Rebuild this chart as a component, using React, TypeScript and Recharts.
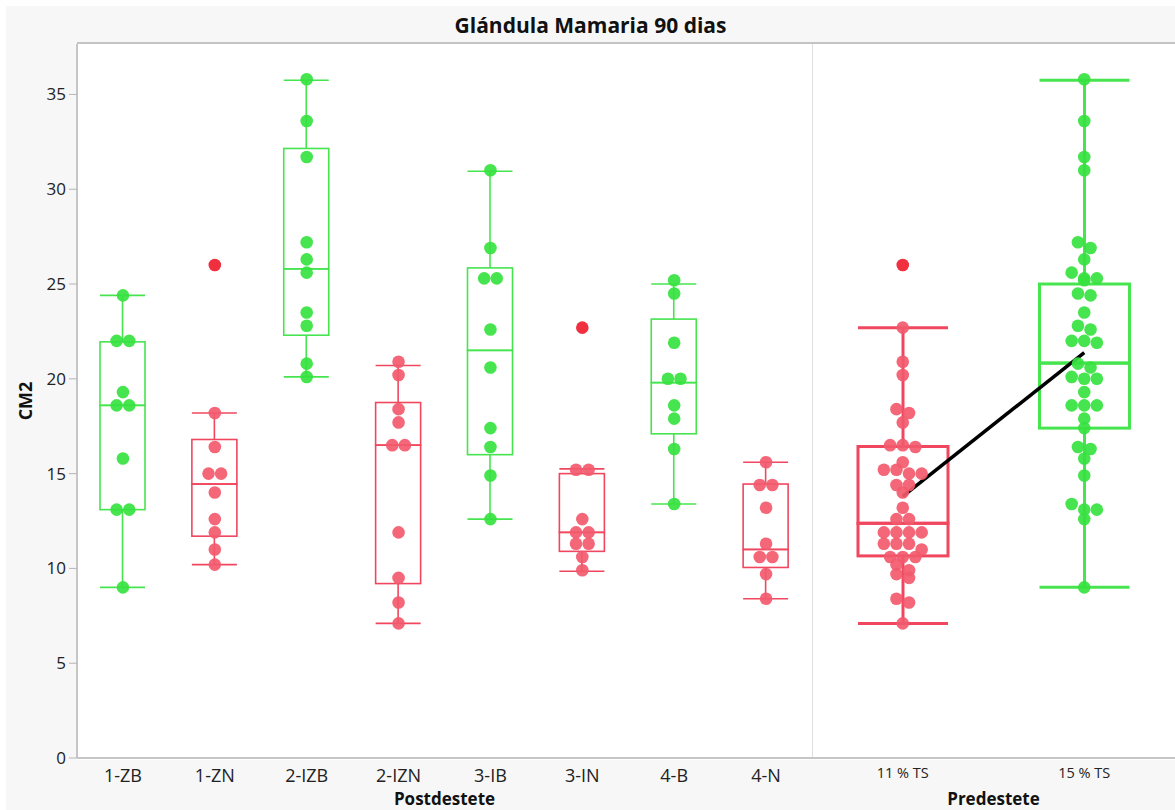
import React from "react";
import { ComposedChart, Bar, Scatter, Line, XAxis, YAxis } from "recharts";

// Postdestete groups (CM2 values)
const postCats = ["1-ZB", "1-ZN", "2-IZB", "2-IZN", "3-IB", "3-IN", "4-B", "4-N"];
const zb1 = [24.4, 22.0, 22.0, 19.3, 18.6, 18.6, 15.8, 13.1, 13.1, 9.0];
const zn1 = [26.0, 18.2, 16.4, 15.0, 15.0, 14.0, 12.6, 11.9, 11.0, 10.2];
const izb2 = [35.8, 33.6, 31.7, 27.2, 26.3, 25.6, 23.5, 22.8, 20.8, 20.1];
const izn2 = [20.9, 20.2, 18.4, 17.7, 16.5, 16.5, 11.9, 9.5, 8.2, 7.1];
const ib3 = [31.0, 26.9, 25.3, 25.3, 22.6, 20.6, 17.4, 16.4, 14.9, 12.6];
const in3 = [22.7, 15.2, 15.2, 12.6, 11.9, 11.9, 11.3, 11.3, 10.6, 9.9];
const b4 = [25.2, 24.5, 21.9, 20.0, 20.0, 18.6, 17.9, 16.3, 13.4];
const n4 = [15.6, 14.4, 14.4, 13.2, 11.3, 10.6, 10.6, 9.7, 8.4];

// box stats as drawn
const postLo = [9.0, 10.2, 20.1, 7.1, 12.6, 9.85, 13.4, 8.4];
const postQ1 = [13.1, 11.7, 22.3, 9.2, 16.0, 10.9, 17.1, 10.05];
const postMed = [18.6, 14.45, 25.8, 16.5, 21.5, 11.9, 19.8, 11.0];
const postQ3 = [21.95, 16.8, 32.15, 18.75, 25.85, 15.0, 23.15, 14.45];
const postHi = [24.4, 18.2, 35.75, 20.7, 30.95, 15.25, 25.0, 15.6];

// Predestete = pooled groups
const preCats = ["11 % TS", "15 % TS"];
const ts11 = [...zn1, ...izn2, ...in3, ...n4];
const ts15 = [...zb1, ...izb2, ...ib3, ...b4];
const preLo = [7.1, 9.0];
const preQ1 = [10.66, 17.4];
const preMed = [12.38, 20.83];
const preQ3 = [16.43, 25.0];
const preHi = [22.7, 35.75];

const yTicks = [0, 5, 10, 15, 20, 25, 30, 35];
const Y_MAX = 37.66;

const GREEN = "#36e23f";
const GREEN_LINE = "#46e44e";
const RED = "#f25a6e";
const RED_LINE = "#f0475f";
const RED_OUT = "#f0303f";
const redGroups = ["1-ZN", "2-IZN", "3-IN", "4-N", "11 % TS"];
const isRed = (name: string) => redGroups.includes(name);

function boxRows(cats: string[], lo: number[], q1: number[], med: number[], q3: number[], hi: number[], groups: number[][]) {
  return cats.map((name, i) => ({
    name,
    base: lo[i],
    lowW: q1[i] - lo[i],
    lowBox: med[i] - q1[i],
    highBox: q3[i] - med[i],
    highW: hi[i] - q3[i],
    mean: groups[i].reduce((a, b) => a + b, 0) / groups[i].length,
  }));
}

// simple packed layout: near-equal values share a row, centred on the category
function swarm(groups: number[][], cats: string[], lo: number[], hi: number[], gap: number) {
  const pts: any[] = [];
  groups.forEach((vals, i) => {
    const sorted = [...vals].sort((a, b) => b - a);
    const rows: number[][] = [];
    sorted.forEach((v) => {
      const last = rows[rows.length - 1];
      if (last && last[0] - v < 0.35) last.push(v);
      else rows.push([v]);
    });
    rows.forEach((row) => {
      row.forEach((v, j) => {
        pts.push({
          x: i + 0.5,
          y: v,
          dx: (j - (row.length - 1) / 2) * gap,
          red: isRed(cats[i]),
          out: v > hi[i] + 0.3 || v < lo[i] - 0.3,
        });
      });
    });
  });
  return pts;
}

const postGroups = [zb1, zn1, izb2, izn2, ib3, in3, b4, n4];
const preGroups = [ts11, ts15];
const postData = boxRows(postCats, postLo, postQ1, postMed, postQ3, postHi, postGroups);
const preData = boxRows(preCats, preLo, preQ1, preMed, preQ3, preHi, preGroups);
const postPts = swarm(postGroups, postCats, postLo, postHi, 12.6);
const prePts = swarm(preGroups, preCats, preLo, preHi, 12.6);

const lineColor = (p: any) => (isRed(p.payload?.name ?? p.name) ? RED_LINE : GREEN_LINE);

const whisker = (lowEnd: boolean, sw: number) => (p: any) => {
  const { x, y, width, height } = p;
  const cx = x + width / 2;
  const capY = lowEnd ? y + height : y;
  const c = lineColor(p);
  return (
    <g>
      <line x1={cx} x2={cx} y1={y} y2={y + height} stroke={c} strokeWidth={sw} />
      <line x1={x} x2={x + width} y1={capY} y2={capY} stroke={c} strokeWidth={sw} />
    </g>
  );
};

const boxPart = (sw: number) => (p: any) => (
  <rect x={p.x} y={p.y} width={p.width} height={p.height} fill="none" stroke={lineColor(p)} strokeWidth={sw} />
);

const dot = (p: any) => {
  const d = p.payload;
  const fill = d.red ? (d.out ? RED_OUT : RED) : GREEN;
  return <circle cx={p.cx + d.dx} cy={p.cy} r={6.3} fill={fill} fillOpacity={d.out ? 1 : 0.92} />;
};

const none = () => <g />;

function BoxPanel({ data, pts, cats, width, left, barSize, sw, withY, showMean, tickSize }: any) {
  return (
    <div style={{ position: "absolute", left, top: 0 }}>
      <ComposedChart width={width} height={810} data={data} margin={{ top: 44, right: 0, left: 0, bottom: 22 }}>
        <XAxis
          xAxisId="cat"
          dataKey="name"
          type="category"
          interval={0}
          height={30}
          tickLine={false}
          tickSize={0}
          tickMargin={tickSize > 15 ? 11 : 10}
          axisLine={{ stroke: "#c6c6c6", strokeWidth: 2 }}
          tick={{ fontSize: tickSize, fill: "#222", fontFamily: "Open Sans" }}
        />
        <XAxis xAxisId="num" dataKey="x" type="number" domain={[0, cats.length]} allowDataOverflow hide />
        {withY ? (
          <YAxis
            domain={[0, Y_MAX]}
            ticks={yTicks}
            width={77}
            tickSize={8}
            tickMargin={3}
            tickLine={{ stroke: "#b5b5b5" }}
            axisLine={{ stroke: "#c6c6c6", strokeWidth: 2 }}
            tick={{ fontSize: 17, fill: "#222", fontFamily: "Open Sans" }}
          />
        ) : (
          <YAxis domain={[0, Y_MAX]} hide />
        )}
        <Bar xAxisId="cat" dataKey="base" stackId="b" barSize={barSize} shape={none} isAnimationActive={false} />
        <Bar xAxisId="cat" dataKey="lowW" stackId="b" barSize={barSize} shape={whisker(true, sw)} isAnimationActive={false} />
        <Bar xAxisId="cat" dataKey="lowBox" stackId="b" barSize={barSize} shape={boxPart(sw)} isAnimationActive={false} />
        <Bar xAxisId="cat" dataKey="highBox" stackId="b" barSize={barSize} shape={boxPart(sw)} isAnimationActive={false} />
        <Bar xAxisId="cat" dataKey="highW" stackId="b" barSize={barSize} shape={whisker(false, sw)} isAnimationActive={false} />
        <Scatter xAxisId="num" data={pts} dataKey="y" shape={dot} isAnimationActive={false} />
        {showMean && (
          <Line xAxisId="cat" dataKey="mean" stroke="#000" strokeWidth={3.5} dot={false} isAnimationActive={false} />
        )}
      </ComposedChart>
    </div>
  );
}

export default function App() {
  const label: React.CSSProperties = {
    position: "absolute",
    fontFamily: "Open Sans",
    fontWeight: 700,
    fontSize: 17,
    color: "#111",
    whiteSpace: "nowrap",
  };
  return (
    <div style={{ position: "absolute", left: 0, top: 0, width: 1175, height: 810, background: "#fff", overflow: "hidden" }}>
      <div style={{ position: "absolute", left: 6, top: 6, right: 0, bottom: 0, background: "#f7f7f7" }} />
      <div style={{ position: "absolute", left: 77, top: 42, width: 1098, height: 716, background: "#fff", borderTop: "2px solid #c4c4c4" }} />
      <div style={{ position: "absolute", left: 812, top: 44, width: 1, height: 714, background: "#dedede" }} />
      <div style={{ ...label, left: 6, width: 1169, top: 11, textAlign: "center", fontSize: 21 }}>
        Glándula Mamaria 90 dias
      </div>
      <div style={{ ...label, left: 25, top: 401, fontSize: 18, transform: "translate(-50%, -50%) rotate(-90deg)" }}>CM2</div>
      <BoxPanel data={postData} pts={postPts} cats={postCats} width={812} left={0} barSize={45} sw={1.6} withY showMean={false} tickSize={18} />
      <BoxPanel data={preData} pts={prePts} cats={preCats} width={363} left={812} barSize={90} sw={3} withY={false} showMean tickSize={14.5} />
      <div style={{ ...label, left: 444.5, top: 798, transform: "translate(-50%, -50%)" }}>Postdestete</div>
      <div style={{ ...label, left: 993.5, top: 798, transform: "translate(-50%, -50%)" }}>Predestete</div>
    </div>
  );
}
